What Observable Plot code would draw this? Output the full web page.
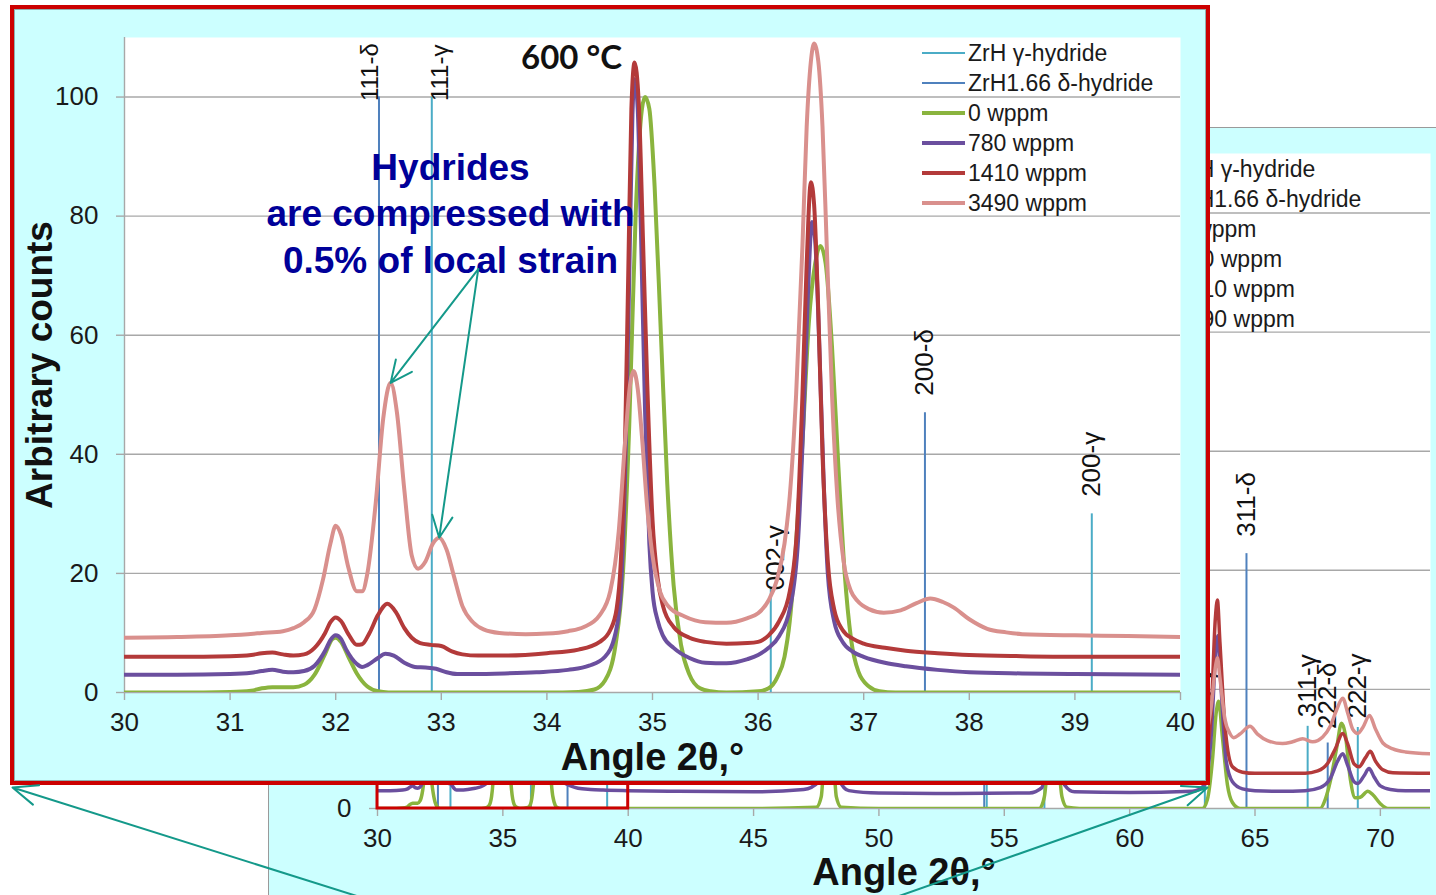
<!DOCTYPE html>
<html><head><meta charset="utf-8">
<script src="https://cdn.jsdelivr.net/npm/d3@7"></script>
<script src="https://cdn.jsdelivr.net/npm/@observablehq/plot@0.6"></script>
<style>
body{margin:0;background:#fff;}
#page{position:relative;width:1436px;height:895px;overflow:hidden;background:#fff;font-family:"Liberation Sans",Arial,sans-serif;}
#back{position:absolute;left:268px;top:127px;width:1168px;height:768px;background:#ccffff;box-shadow:inset 1px 1px 0 #9a9a9a;}
#front{position:absolute;left:10px;top:5px;width:1200px;height:780px;background:#ccffff;}
#frontBorder{position:absolute;left:10px;top:5px;width:1200px;height:780px;border:4px solid #cc0000;box-sizing:border-box;box-shadow:inset 0 0 0 1px #8fb0b0;}
.legend{position:absolute;}
.legend .row{display:flex;align-items:center;height:30px;}
.legend .sw{width:43px;margin-right:3px;}
.legend .tx{font-size:23px;color:#1a1a1a;white-space:nowrap;}
#overlay{position:absolute;left:0;top:0;}
svg{overflow:visible}
</style>
</head><body>
<div id="page">
  <div id="back"></div>
  <div id="backLegend" class="legend" style="left:1130px;top:154px"></div>
  <div id="front"></div>
  <div id="frontBorder"></div>
  <div id="frontLegend" class="legend" style="left:922px;top:38px"></div>
  <div id="overlay"></div>
</div>
<script>
// ---------------- data ----------------
const seriesNames = ["0 wppm", "780 wppm", "1410 wppm", "3490 wppm"];
const seriesColors = ["#8ab43e", "#6b4f9e", "#b33a3a", "#d9908d"];
const hydrideNames = ["ZrH γ-hydride", "ZrH1.66 δ-hydride"];
const hydrideColors = ["#4bacc6", "#4f81bd"];

// [angle 2θ, counts]
const wppm0 = [[30,0],[30.5,0],[31,0.1],[31.2,0.3],[31.3,0.7],[31.4,0.9],[31.6,0.9],[31.7,1.3],[31.8,3.0],[31.9,6.5],[31.97,9.0],[32.0,9.2],[32.05,8.5],[32.12,6.0],[32.2,3.2],[32.3,1.0],[32.4,0.2],[32.5,0],[33,0],[34,0],[34.3,0.1],[34.45,0.5],[34.55,2],[34.65,8],[34.72,20],[34.78,45],[34.84,80],[34.9,98],[34.93,100],[34.97,98],[35.02,85],[35.08,60],[35.14,35],[35.2,18],[35.27,8],[35.35,3],[35.45,0.7],[35.55,0.2],[35.7,0],[36.0,0.2],[36.1,0.7],[36.18,2.5],[36.25,6],[36.3,12],[36.36,25],[36.42,42],[36.48,62],[36.54,72],[36.59,75],[36.64,72],[36.7,58],[36.76,38],[36.82,20],[36.88,9],[36.95,3.5],[37.05,1],[37.15,0.2],[37.3,0],[40,0],[45,0],[47.5,0.2],[47.7,2],[47.85,12],[48.0,22],[48.15,12],[48.3,2],[48.5,0.2],[50,0],[56.4,0],[56.6,2],[56.8,12],[56.95,20],[57.1,12],[57.3,2],[57.5,0.2],[58,0],[62.9,0],[63.1,1.5],[63.3,8],[63.45,16],[63.55,18],[63.7,12],[63.9,4],[64.1,1],[64.4,0],[67.6,0],[67.8,1.5],[68.0,4.5],[68.25,10],[68.45,14.3],[68.6,12.5],[68.8,5],[69.0,1.8],[69.2,1.9],[69.5,2.9],[69.7,2.3],[70.0,0.8],[70.3,0],[72,0]];
const wppm780 = [[30,3.0],[30.5,3.0],[31,3.1],[31.2,3.3],[31.3,3.6],[31.4,3.8],[31.5,3.5],[31.6,3.4],[31.7,3.6],[31.8,4.5],[31.9,7.0],[31.95,8.8],[32.0,9.6],[32.05,9.0],[32.1,7.2],[32.2,4.8],[32.25,4.3],[32.3,4.6],[32.4,5.8],[32.47,6.5],[32.55,6.2],[32.65,5.0],[32.75,4.3],[32.85,4.2],[32.95,4.0],[33.05,3.4],[33.15,3.1],[33.3,3.1],[33.6,3.2],[33.9,3.4],[34.2,3.8],[34.4,4.5],[34.55,6.0],[34.65,10],[34.7,17],[34.74,36],[34.78,70],[34.81,97],[34.83,103],[34.86,98],[34.89,78],[34.93,47],[34.97,25],[35.0,17],[35.05,12],[35.1,9.5],[35.2,7.5],[35.35,5.8],[35.5,5.0],[35.7,4.9],[35.9,5.6],[36.0,6.3],[36.1,7.5],[36.2,9.5],[36.3,14],[36.38,26],[36.43,46],[36.47,66],[36.51,79],[36.54,76],[36.58,58],[36.62,36],[36.66,20],[36.72,12],[36.8,8.5],[36.9,6.8],[37.0,6.0],[37.2,5.0],[37.4,4.4],[37.7,3.8],[38.0,3.4],[38.5,3.2],[39,3.1],[40,3.0],[42,2.9],[45,2.8],[47,3.2],[47.6,4.5],[47.85,14],[48.0,25],[48.15,14],[48.4,5],[48.8,3],[50,2.6],[53,2.5],[56,2.6],[56.5,3.5],[56.75,12],[56.95,22],[57.15,12],[57.4,4],[57.8,2.8],[60,2.7],[62.5,2.9],[63.0,4],[63.25,12],[63.45,27],[63.52,29],[63.65,20],[63.85,8],[64.1,4.5],[64.5,3.3],[65,3.0],[66,2.9],[67,3.0],[67.6,3.5],[68.0,5],[68.3,8],[68.5,9.2],[68.7,7.2],[68.95,4.5],[69.1,4.2],[69.35,5.5],[69.55,6.7],[69.75,5.3],[70.0,3.8],[70.4,3.2],[71,3.0],[72,3.0]];
const wppm1410 = [[30,6.0],[30.5,6.0],[31,6.1],[31.2,6.3],[31.3,6.6],[31.4,6.7],[31.5,6.4],[31.6,6.2],[31.7,6.4],[31.8,7.5],[31.9,10],[31.95,11.8],[32.0,12.6],[32.05,12],[32.12,9.8],[32.2,8.0],[32.25,8.1],[32.32,10],[32.4,13],[32.49,14.9],[32.57,13.5],[32.65,10.8],[32.72,9.2],[32.8,8.3],[32.9,8.0],[33.0,7.8],[33.1,6.9],[33.2,6.4],[33.35,6.2],[33.6,6.2],[34.0,6.6],[34.3,7.2],[34.5,8.5],[34.6,10.5],[34.66,14],[34.7,22],[34.74,42],[34.77,70],[34.8,98],[34.83,105.8],[34.87,99],[34.91,76],[34.95,52],[35.0,29],[35.05,19],[35.1,14.5],[35.2,11],[35.35,9.2],[35.5,8.5],[35.7,8.2],[35.9,8.3],[36.0,8.5],[36.1,9.6],[36.2,12],[36.3,17],[36.37,28],[36.42,50],[36.46,72],[36.5,85.7],[36.53,82],[36.57,64],[36.61,40],[36.66,22],[36.72,14],[36.8,10.5],[36.9,9.0],[37.0,8.2],[37.2,7.5],[37.4,7.0],[37.7,6.6],[38.0,6.3],[38.5,6.1],[39,6.0],[40,6.0],[45,6.0],[47.5,7],[47.85,17],[48.0,28],[48.15,17],[48.5,8],[50,6.2],[56,6.2],[56.5,7.5],[56.75,15],[56.95,24],[57.15,15],[57.5,7.5],[58,6.3],[62.5,6.3],[63.0,8],[63.25,16],[63.42,32],[63.5,35],[63.6,28],[63.8,14],[64.1,7],[64.5,6.1],[65,5.9],[67,5.9],[67.5,6.3],[67.9,7.6],[68.2,10],[68.5,12.6],[68.7,10.8],[68.95,7.5],[69.15,7.0],[69.4,8.5],[69.6,9.6],[69.8,8.0],[70.1,6.5],[70.5,6.0],[72,5.9]];
const wppm3490 = [[30,9.2],[30.5,9.3],[31,9.6],[31.3,10],[31.5,10.3],[31.6,10.8],[31.7,11.8],[31.8,14],[31.88,19],[31.95,25],[32.0,28],[32.05,26.5],[32.12,21],[32.2,17],[32.25,17],[32.3,20],[32.38,32],[32.45,46],[32.52,52],[32.58,47],[32.65,34],[32.72,23],[32.78,20.8],[32.85,22],[32.92,25],[32.98,26],[33.05,24],[33.12,19.5],[33.2,14.5],[33.3,11.8],[33.4,10.6],[33.55,10.0],[33.8,9.8],[34.0,9.9],[34.2,10.3],[34.35,11],[34.5,13],[34.6,17],[34.68,27],[34.74,42],[34.79,52],[34.82,54],[34.86,51],[34.9,43],[34.95,31],[35.0,23],[35.07,17],[35.15,14.5],[35.3,12.8],[35.5,11.8],[35.7,11.7],[35.9,12.5],[36.0,13.3],[36.1,15.5],[36.18,19],[36.25,25],[36.3,33],[36.36,50],[36.42,75],[36.46,95],[36.5,106],[36.53,109],[36.57,106],[36.61,95],[36.65,75],[36.7,50],[36.75,33],[36.81,22],[36.88,17],[36.94,15.4],[37.05,14],[37.19,13.4],[37.35,13.8],[37.5,15],[37.63,15.8],[37.75,15.2],[37.85,14.3],[38.0,12.3],[38.17,10.7],[38.35,10.1],[38.5,9.8],[39.0,9.6],[39.5,9.5],[40,9.3],[45,9.3],[47.5,10.5],[47.85,17],[48.0,24],[48.15,17],[48.5,11],[50,9.6],[53.5,10.5],[54.2,13],[55,10.5],[56,10],[56.5,11],[56.75,15],[56.95,20],[57.15,15],[57.5,11],[58,10],[62.5,10.5],[63.0,12],[63.25,17],[63.43,24],[63.5,25.3],[63.6,22],[63.8,15],[64.0,12.6],[64.15,11.9],[64.4,12.5],[64.8,13.8],[65.1,12.5],[65.5,11.4],[66.1,10.9],[66.5,11.2],[66.9,11.7],[67.3,11.2],[67.7,12.0],[68.0,13.8],[68.25,16.5],[68.5,18.5],[68.7,16],[68.9,13.3],[69.1,12.6],[69.3,13.6],[69.57,15.6],[69.8,13.4],[70.1,11],[70.5,10],[71,9.5],[72,9.2]];

// reference hydride lines
const hydrideLabels  = ["111-δ","111-γ","002-γ","200-δ","200-γ","220-δ","220-γ","202-γ","113-γ","311-δ","311-γ","222-δ","222-γ"];
const hydridePhases  = ["δ","γ","γ","δ","γ","δ","γ","γ","γ","δ","γ","δ","γ"];
const hydrideAngles  = [32.41,32.91,36.12,37.58,39.16,54.2,54.3,56.6,63.0,64.66,67.1,67.9,69.1];
const hydrideHeights = [100,100,17.5,47,30,35,15,15,10,42.8,13.8,11,13.6];

const yTicks = [0,20,40,60,80,100];
const xTicksZoom = [30,31,32,33,34,35,36,37,38,39,40];
const xTicksFull = [30,35,40,45,50,55,60,65,70];
const zoomDomain = [30,40];
const fullDomain = [30,72];
const yDomain = [0,110];
const annotatedPeaks = [32.52, 32.98];

// ---------------- tables ----------------
const seriesData = [wppm0, wppm780, wppm1410, wppm3490];
const rows = seriesNames.flatMap((s, i) => seriesData[i].map(([a, v]) => ({series: s, angle: a, value: v})));
const hyd = hydrideLabels.map((l, i) => ({label: l, phase: hydridePhases[i], angle: hydrideAngles[i], height: hydrideHeights[i]}));
const phaseColor = {"γ": hydrideColors[0], "δ": hydrideColors[1]};
// label placement tweaks (Excel manual label positions)
const labelNudge = {"111-δ": {dx: -9, gap: -4, size: 24}, "111-γ": {dx: 9, gap: -4, size: 24}, "002-γ": {dx: 5, gap: -2}, "311-γ": {gap: 9}, "222-γ": {gap: 9}, "222-δ": {gap: 14}};
const nud = l => Object.assign({dx: 0, gap: 17, size: 26}, labelNudge[l] || {});

const FONT = '"Liberation Sans", Arial, sans-serif';
const GRID = "#a8a8a8";

function hydrideMarks(domain) {
  const inside = hyd.filter(d => d.angle >= domain[0] && d.angle <= domain[1]);
  return [
    Plot.ruleX(inside.filter(d => d.phase === "δ"), {x: "angle", y1: 0, y2: "height", stroke: phaseColor["δ"], strokeWidth: 2}),
    Plot.ruleX(inside.filter(d => d.phase === "γ"), {x: "angle", y1: 0, y2: "height", stroke: phaseColor["γ"], strokeWidth: 2}),
    ...inside.map(d => {
      const n = nud(d.label);
      return Plot.text([d], {x: "angle", y: "height", text: "label", rotate: -90, textAnchor: "start", lineAnchor: "middle",
        dx: n.dx, dy: -n.gap, fontSize: n.size, fill: "#111", fontFamily: FONT});
    })
  ];
}

function baseMarks(xTicks) {
  return [
    Plot.frame({fill: "white", stroke: "none"}),
    Plot.gridY(yTicks, {stroke: GRID, strokeOpacity: 1, strokeWidth: 1.4}),
    Plot.axisY(yTicks, {tickSize: 8, tickPadding: 18, fontSize: 26, stroke: GRID, strokeWidth: 1.4, fill: "#1a1a1a", label: null, fontFamily: FONT}),
    Plot.axisX(xTicks, {tickSize: 8, tickPadding: 12, fontSize: 26, stroke: GRID, strokeWidth: 1.4, fill: "#1a1a1a", label: null, fontFamily: FONT}),
    Plot.ruleX([xTicks[0]], {stroke: GRID, strokeWidth: 1.4})
  ];
}

function titleMarks(bottomOffset) {
  return [
    Plot.text(["Angle 2θ,°"], {frameAnchor: "bottom", dy: bottomOffset, lineAnchor: "middle", textAnchor: "middle", fontSize: 38, fontWeight: "bold", fill: "#111", fontFamily: FONT}),
    Plot.text(["Arbitrary counts"], {frameAnchor: "left", dx: -84, rotate: -90, lineAnchor: "middle", textAnchor: "middle", fontSize: 37, fontWeight: "bold", fill: "#111", fontFamily: FONT})
  ];
}

const colorScale = {domain: seriesNames, range: seriesColors};

// ---------------- background (full range) chart ----------------
const back = Plot.plot({
  width: 1168, height: 768,
  marginLeft: 109, marginTop: 26, marginRight: 6, marginBottom: 87,
  x: {domain: fullDomain},
  y: {domain: yDomain},
  color: colorScale,
  style: {background: "transparent", fontFamily: FONT, color: "#1a1a1a", overflow: "visible"},
  marks: [
    ...baseMarks(xTicksFull),
    ...hydrideMarks(fullDomain),
    Plot.line(rows, {x: "angle", y: "value", z: "series", stroke: "series", strokeWidth: 3.5, curve: "monotone-x", clip: true}),
    Plot.rect([{x1: zoomDomain[0], x2: zoomDomain[1], y1: yDomain[0], y2: yDomain[1]}], {x1: "x1", x2: "x2", y1: "y1", y2: "y2", fill: "none", stroke: "#cc0000", strokeWidth: 3}),
    ...titleMarks(64)
  ]
});
document.getElementById("back").appendChild(back);

// ---------------- front (zoom 30–40°) chart ----------------
const zoomRows = rows.filter(d => d.angle >= zoomDomain[0] - 1 && d.angle <= zoomDomain[1] + 1);
const pink = wppm3490;
const peakValue = a => pink.find(p => p[0] === a)[1];
const arrowData = annotatedPeaks.map(a => ({x1: 33.35, y1: 71.1, x2: a, y2: peakValue(a)}));

const front = Plot.plot({
  width: 1200, height: 780,
  marginLeft: 114, marginTop: 32, marginRight: 30, marginBottom: 93,
  x: {domain: zoomDomain},
  y: {domain: yDomain},
  color: colorScale,
  style: {background: "transparent", fontFamily: FONT, color: "#1a1a1a", overflow: "visible"},
  marks: [
    ...baseMarks(xTicksZoom),
    ...hydrideMarks(zoomDomain),
    Plot.line(zoomRows, {x: "angle", y: "value", z: "series", stroke: "series", strokeWidth: 4, curve: "monotone-x", clip: true}),
    Plot.text(["600 °C"], {frameAnchor: "top-left", dx: 447, dy: 21, textAnchor: "middle", lineAnchor: "middle", fontSize: 33, fontWeight: "bold", fill: "#111", fontFamily: "Lato, 'Open Sans', sans-serif"}),
    Plot.text(["Hydrides\nare compressed with\n0.5% of local strain"], {frameAnchor: "top-left", dx: 326, dy: 174, textAnchor: "middle", lineAnchor: "middle", lineHeight: 1.26, fontSize: 37, fontWeight: "bold", fill: "#000099", fontFamily: FONT}),
    Plot.arrow(arrowData, {x1: "x1", y1: "y1", x2: "x2", y2: "y2", stroke: "#14998a", strokeWidth: 2, headLength: 18, headAngle: 50, bend: 0}),
    ...titleMarks(65)
  ]
});
document.getElementById("front").appendChild(front);

// ---------------- legends ----------------
function buildLegend(el) {
  const items = [
    ...hydrideNames.map((n, i) => ({name: n, color: hydrideColors[i], w: 2})),
    ...seriesNames.map((n, i) => ({name: n, color: seriesColors[i], w: 4}))
  ];
  for (const it of items) {
    const r = document.createElement("div"); r.className = "row";
    const s = document.createElement("div"); s.className = "sw";
    s.style.height = it.w + "px"; s.style.background = it.color;
    const t = document.createElement("div"); t.className = "tx"; t.textContent = it.name;
    r.appendChild(s); r.appendChild(t); el.appendChild(r);
  }
}
buildLegend(document.getElementById("frontLegend"));
buildLegend(document.getElementById("backLegend"));

// ---------------- zoom connector arrows ----------------
const connectors = [
  {x1: 434, y1: 920, x2: 12, y2: 787},
  {x1: 829, y1: 920, x2: 1207, y2: 787}
];
const overlay = Plot.plot({
  width: 1436, height: 895, margin: 0,
  x: {type: "identity", axis: null}, y: {type: "identity", axis: null},
  style: {background: "transparent", overflow: "visible"},
  marks: [Plot.arrow(connectors, {x1: "x1", y1: "y1", x2: "x2", y2: "y2", stroke: "#14998a", strokeWidth: 2, headLength: 20, headAngle: 45})]
});
document.getElementById("overlay").appendChild(overlay);
</script>
</body></html>
